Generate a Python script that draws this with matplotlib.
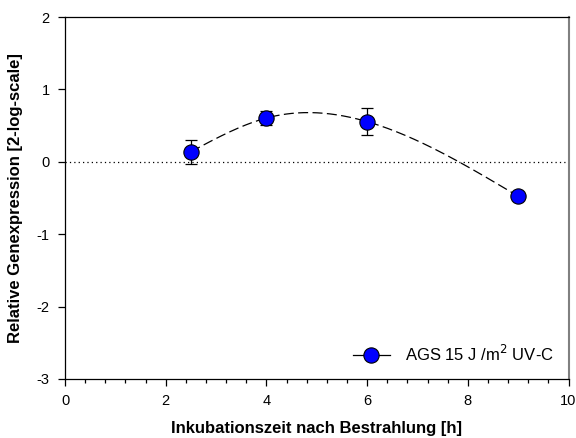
import numpy as np
import matplotlib.pyplot as plt
from matplotlib.ticker import MultipleLocator

plt.rcParams['font.family'] = ['Liberation Sans', 'DejaVu Sans']
plt.rcParams['axes.unicode_minus'] = False

# data
hours = [2.5, 4, 6, 9]
expr = [0.14, 0.605, 0.555, -0.476]
err = [0.167, 0.10, 0.185, 0.0]
label = 'AGS 15 J /m$^2$ UV-C'


def natural_spline(x, y, xs):
    x = np.asarray(x, float)
    y = np.asarray(y, float)
    n = len(x)
    h = np.diff(x)
    A = np.zeros((n, n))
    b = np.zeros(n)
    A[0, 0] = A[-1, -1] = 1
    for i in range(1, n - 1):
        A[i, i - 1] = h[i - 1]
        A[i, i] = 2 * (h[i - 1] + h[i])
        A[i, i + 1] = h[i]
        b[i] = 3 * ((y[i + 1] - y[i]) / h[i] - (y[i] - y[i - 1]) / h[i - 1])
    c = np.linalg.solve(A, b)
    out = np.empty_like(xs)
    for k, xv in enumerate(xs):
        i = min(np.searchsorted(x, xv, side='right') - 1, n - 2)
        i = max(i, 0)
        dx = xv - x[i]
        bi = (y[i + 1] - y[i]) / h[i] - h[i] * (2 * c[i] + c[i + 1]) / 3
        di = (c[i + 1] - c[i]) / (3 * h[i])
        out[k] = y[i] + bi * dx + c[i] * dx ** 2 + di * dx ** 3
    return out


fig, ax = plt.subplots(figsize=(5.76, 4.38), dpi=100)
fig.subplots_adjust(left=0.113, right=0.987, bottom=0.135, top=0.961)

# smooth dashed curve through the points
xs = np.linspace(hours[0], hours[-1], 300)
ax.plot(xs, natural_spline(hours, expr, xs), color='black', ls=(0, (8, 3.5)), lw=0.9, zorder=2)

ax.axhline(0, color='black', ls=(0, (1, 2.5)), lw=0.9, zorder=1)

ax.errorbar(hours, expr, yerr=err, fmt='none', ecolor='black', elinewidth=0.9,
            capsize=4, capthick=0.9, zorder=3)
ax.plot(hours, expr, 'o', color='#0000ff', mec='black', mew=0.8, ms=11, zorder=4)

# legend entry
h, = ax.plot([], [], marker='o', color='black', mfc='#0000ff', mec='black',
             mew=0.8, ms=11, lw=0.9)
ax.legend([h], [label], loc='lower right', frameon=False, fontsize=12,
          handlelength=2.2, handletextpad=0.9, borderaxespad=0.5)

ax.set_xlim(0, 10)
ax.set_ylim(-3, 2)
ax.xaxis.set_major_locator(MultipleLocator(2))
ax.xaxis.set_minor_locator(MultipleLocator(0.4))
ax.yaxis.set_major_locator(MultipleLocator(1))
ax.tick_params(axis='both', which='major', length=5, width=0.9, labelsize=10.5, pad=6)
ax.tick_params(axis='x', which='minor', length=3, width=0.9)
ax.spines['right'].set_color('#808080')
ax.spines['right'].set_linewidth(1.5)
for s in ['left', 'bottom', 'top']:
    ax.spines[s].set_linewidth(0.9)

ax.set_xlabel('Inkubationszeit nach Bestrahlung [h]', fontsize=12, fontweight='bold', labelpad=9)
ax.set_ylabel('Relative Genexpression [2-log-scale]', fontsize=12, fontweight='bold', labelpad=10)

fig.savefig('out.png', dpi=100)
